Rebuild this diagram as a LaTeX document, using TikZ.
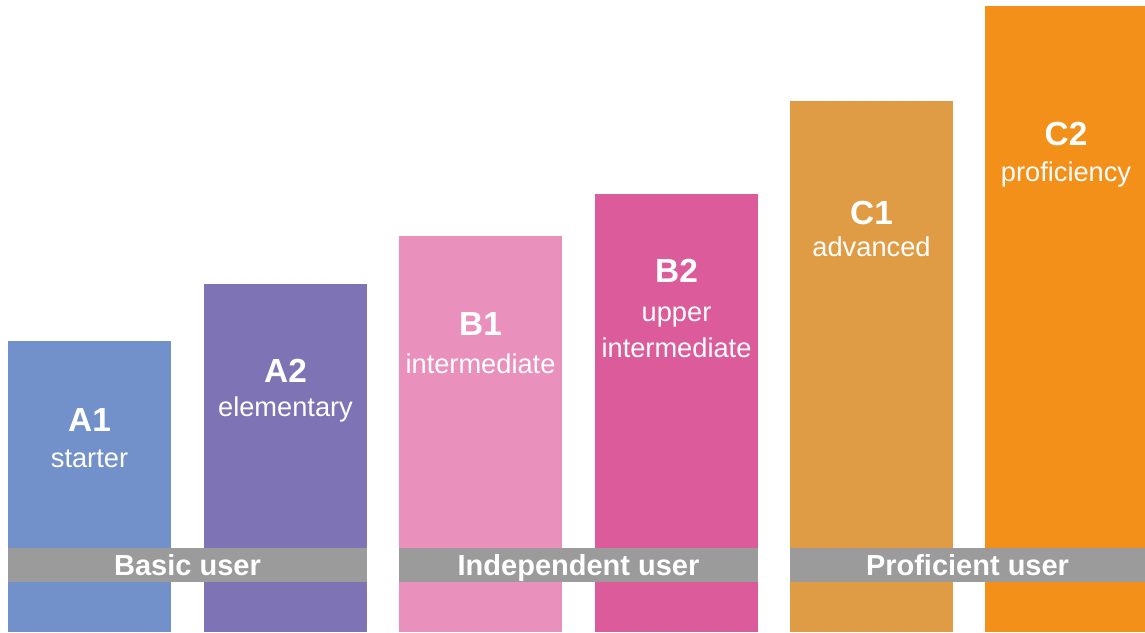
\documentclass[tikz,border=0pt]{standalone}
\usepackage{fontspec}
\setmainfont{Liberation Sans}
\usepackage{tikz}

\definecolor{aone}{HTML}{7291CB}
\definecolor{atwo}{HTML}{7E73B4}
\definecolor{bone}{HTML}{EA90BC}
\definecolor{btwo}{HTML}{DC5B9B}
\definecolor{cone}{HTML}{E09C45}
\definecolor{ctwo}{HTML}{F29019}
\definecolor{bandgray}{HTML}{9B9B9B}

\begin{document}
\begin{tikzpicture}[
  grade/.style={anchor=base,text=white,font=\fontsize{19}{21}\selectfont\bfseries,inner sep=0pt},
  levelname/.style={anchor=base,text=white,font=\fontsize{15.5}{17}\selectfont,inner sep=0pt},
  usertext/.style={anchor=base,text=white,font=\fontsize{16.5}{18}\selectfont\bfseries,inner sep=0pt}]
\useasboundingbox (0,0) rectangle (22.9,12.64);
%First bar
  \fill[aone] (0.16,0) rectangle (3.42,5.82);
  \node[grade] (A1) at (1.79,4.02) {A1};
  \node[levelname] (A1n) at (1.79,3.30) {starter};
%Second bar
  \fill[atwo] (4.08,0) rectangle (7.34,6.96);
  \node[grade] (A2) at (5.71,5.00) {A2};
  \node[levelname] (A2n) at (5.71,4.32) {elementary};
%Third bar
  \fill[bone] (7.98,0) rectangle (11.24,7.92);
  \node[grade] (B1) at (9.61,5.92) {B1};
  \node[levelname] (B1n) at (9.61,5.16) {intermediate};
%Fourth bar
  \fill[btwo] (11.90,0) rectangle (15.16,8.76);
  \node[grade] (B2) at (13.53,6.98) {B2};
  \node[levelname] (B2n) at (13.53,6.20) {upper};
  \node[levelname] (B2m) at (13.53,5.50) {intermediate};
%Fifth bar
  \fill[cone] (15.80,0) rectangle (19.06,10.62);
  \node[grade] (C1) at (17.43,8.14) {C1};
  \node[levelname] (C1n) at (17.43,7.50) {advanced};
%Sixth bar
  \fill[ctwo] (19.70,0) rectangle (22.90,12.52);
  \node[grade] (C2) at (21.32,9.72) {C2};
  \node[levelname] (C2n) at (21.32,9.00) {proficiency};
% user bands
  \fill[bandgray] (0.16,1.00) rectangle (7.34,1.68);
  \fill[bandgray] (7.98,1.00) rectangle (15.16,1.68);
  \fill[bandgray] (15.80,1.00) rectangle (22.90,1.68);
  \node[usertext] (basic) at (3.75,1.13) {Basic user};
  \node[usertext] (indep) at (11.57,1.13) {Independent user};
  \node[usertext] (prof) at (19.35,1.13) {Proficient user};
\end{tikzpicture}
\end{document}
